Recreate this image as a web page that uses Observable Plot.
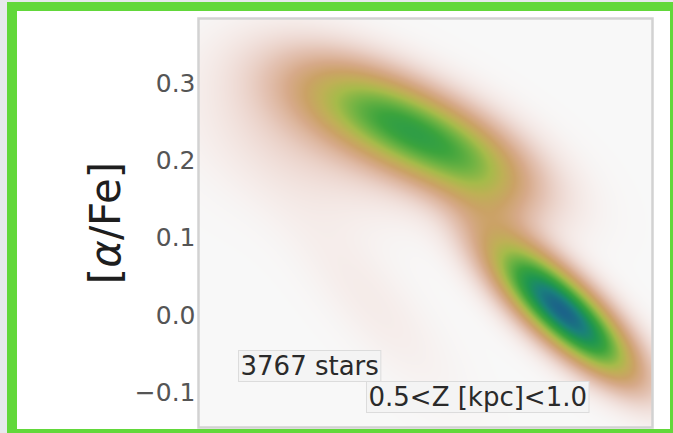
<!DOCTYPE html>
<html>
<head>
<meta charset="utf-8">
<script src="https://cdn.jsdelivr.net/npm/d3@7"></script>
<script src="https://cdn.jsdelivr.net/npm/@observablehq/plot@0.6"></script>
<style>
  html, body { margin: 0; padding: 0; background: #e7e9ec; overflow: hidden; width: 673px; height: 433px; }
  #wrap { position: absolute; left: 7px; top: 2px; width: 653px; height: 418px;
          border-style: solid; border-color: #62d83a; border-width: 9px 6px 6px 10px; background: #ffffff; }
  svg { display: block; font-family: "DejaVu Sans", sans-serif; }
</style>
</head>
<body>
<div id="wrap"></div>
<script>
// Axis domains (x axis hidden in the reference, [Fe/H])
const xDomain = [-1.0, 0.5];
const yDomain = [-0.144, 0.384];
const yTicks = [-0.1, 0.0, 0.1, 0.2, 0.3];
const yLabel = "[α/Fe]";
const annotations = ["3767 stars", "0.5<Z [kpc]<1.0"];

// Density components (centres, spreads, correlation, peak height)
const compName = ["highA1", "highA2", "highHalo", "lowA", "lowExt", "bridge", "lowTail", "metalPoorHaze", "faintDiag"];
const compX    = [-0.382, -0.151, -0.597, 0.210, 0.080, -0.052, 0.328, -0.600, -0.432];
const compY    = [0.256, 0.2097, 0.2845, 0.0040, 0.0587, 0.149, -0.0445, 0.230, 0.020];
const compSx   = [0.181, 0.181, 0.180, 0.142, 0.120, 0.099, 0.104, 0.240, 0.181];
const compSy   = [0.0477, 0.0477, 0.045, 0.0512, 0.048, 0.045, 0.0374, 0.062, 0.0818];
const compRho  = [-0.563, -0.563, -0.4, -0.764, -0.68, -0.3, -0.75, -0.3, -0.817];
const compAmp  = [0.40, 0.40, 0.09, 0.85, 0.18, 0.08, 0.10, 0.075, 0.025];

// Colour ramp (gist_earth_r-like)
const rampStops  = [0, 0.02, 0.06, 0.12, 0.2, 0.28, 0.36, 0.44, 0.54, 0.64, 0.76, 0.88, 1.0];
const rampColors = ["#f8f8f8", "#f6eeec", "#efdcd6", "#e4c3b4", "#d7aa8a", "#cba266", "#bfb056",
                    "#a6bb4a", "#6fb343", "#3ca43d", "#1f9650", "#1a807c", "#1b5e8c"];

function density(x, y) {
  let s = 0;
  for (let i = 0; i < compX.length; i++) {
    const dx = (x - compX[i]) / compSx[i];
    const dy = (y - compY[i]) / compSy[i];
    const r = compRho[i];
    const q = (dx * dx - 2 * r * dx * dy + dy * dy) / (1 - r * r);
    s += compAmp[i] * Math.exp(-0.5 * q);
  }
  return s;
}

const chart = Plot.plot({
  width: 653,
  height: 418,
  marginLeft: 181,
  marginRight: 18,
  marginTop: 7,
  marginBottom: 2,
  style: {background: "transparent", fontFamily: "DejaVu Sans, sans-serif"},
  x: {domain: xDomain, axis: null},
  y: {domain: yDomain, axis: null},
  color: {type: "linear", domain: rampStops, range: rampColors, clamp: true, interpolate: "rgb"},
  marks: [
    Plot.frame({fill: "#f8f8f8"}),
    Plot.raster({fill: density, pixelSize: 1, x1: xDomain[0], x2: xDomain[1], y1: yDomain[0], y2: yDomain[1]}),
    Plot.frame({stroke: "#d2d2d2", strokeWidth: 2.5}),
    Plot.axisY({ticks: yTicks, tickSize: 0, tickPadding: 3, tickFormat: d3.format(".1f"),
                fontSize: 25, color: "#555", label: null}),
    Plot.text([yLabel], {frameAnchor: "left", textAnchor: "middle", lineAnchor: "middle", rotate: -90,
                dx: -92, fontSize: 42, fill: "#1e1e1e"}),
    Plot.text([annotations[0]], {frameAnchor: "bottom-left", textAnchor: "start", lineAnchor: "bottom",
                dx: 42, dy: -53, fontSize: 26, fill: "#2a2a2a"}),
    Plot.text([annotations[1]], {frameAnchor: "bottom-left", textAnchor: "start", lineAnchor: "bottom",
                dx: 170, dy: -22, fontSize: 26, fill: "#2a2a2a"})
  ]
});
document.getElementById("wrap").appendChild(chart);

const allText = Array.from(chart.querySelectorAll("text"));

// italic alpha in the y label
allText.filter(t => t.textContent === yLabel).forEach(node => {
  const t = d3.select(node);
  const s = node.textContent;
  t.text(null);
  const i = s.indexOf("α");
  t.append("tspan").text(s.slice(0, i));
  t.append("tspan").attr("font-style", "italic").text("α");
  t.append("tspan").text(s.slice(i + 1));
});

// boxes behind annotations, sized from the text itself
allText.filter(t => annotations.includes(t.textContent)).forEach(node => {
  const b = node.getBBox();
  const r = document.createElementNS("http://www.w3.org/2000/svg", "rect");
  r.setAttribute("x", b.x - 2);
  r.setAttribute("y", b.y);
  r.setAttribute("width", b.width + 4);
  r.setAttribute("height", b.height + 1);
  r.setAttribute("fill", "#f4f4f4");
  r.setAttribute("stroke", "#dcdcdc");
  r.setAttribute("stroke-width", "1");
  const tr = node.getAttribute("transform");
  if (tr) r.setAttribute("transform", tr);
  node.parentNode.insertBefore(r, node);
});
</script>
</body>
</html>
